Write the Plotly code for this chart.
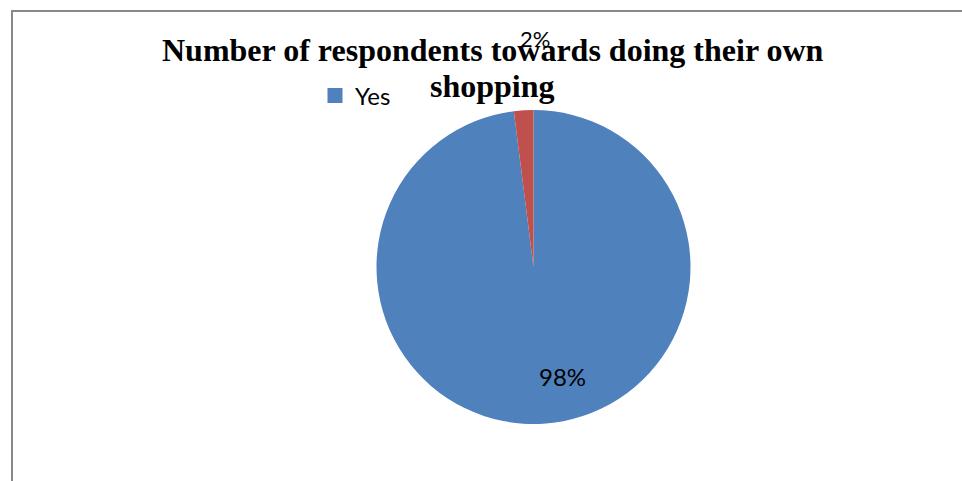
import plotly.graph_objects as go

labels = ["Yes", "No"]
values = [98, 2]
colors = ["#4F81BD", "#C0504D"]
title_lines = ["Number of respondents towards doing their own", "shopping"]

W, H = 962, 481

def px(x):
    return x / W

def py(y):
    return 1 - y / H

fig = go.Figure()
fig.add_trace(go.Pie(
    labels=labels, values=values, sort=False, direction="clockwise", rotation=0,
    marker=dict(colors=colors, line=dict(color="white", width=0)),
    textinfo="none", hoverinfo="label+percent", showlegend=False,
    domain=dict(x=[px(376.5), px(690.5)], y=[py(424), py(110)]),
))
# legend entry (only "Yes" visible in the reference)
fig.add_trace(go.Scatter(
    x=[None], y=[None], mode="markers", name=labels[0],
    marker=dict(symbol="square", size=15, color=colors[0]), showlegend=True,
))

annotations = []
serif = "Liberation Serif, Times New Roman, serif"
for line, yc in zip(title_lines, [50, 86]):
    annotations.append(dict(text="<b>" + line + "</b>", x=px(492.5), y=py(yc), xref="paper", yref="paper",
                            showarrow=False, xanchor="center", yanchor="middle",
                            font=dict(family=serif, size=32, color="black")))

total = sum(values)
pct = [f"{round(v / total * 100)}%" for v in values]
label_pos = [(562, 376, 24), (535, 38, 22)]
for t, (x, y, s) in zip(pct, label_pos):
    annotations.append(dict(text=t, x=px(x), y=py(y), xref="paper", yref="paper",
                            showarrow=False, xanchor="center", yanchor="middle",
                            font=dict(family="Lato, Open Sans, sans-serif", size=s, color="black")))

fig.update_layout(
    width=W, height=H, margin=dict(l=0, r=0, t=0, b=0),
    paper_bgcolor="white", plot_bgcolor="white",
    xaxis=dict(visible=False), yaxis=dict(visible=False),
    legend=dict(x=px(315), y=py(96), xanchor="left", yanchor="middle", bgcolor="rgba(0,0,0,0)",
                font=dict(family="Lato, Open Sans, sans-serif", size=24, color="black"),
                itemsizing="trace", itemwidth=30),
    annotations=annotations,
    shapes=[
        dict(type="line", xref="paper", yref="paper", x0=px(11), x1=1, y0=py(11), y1=py(11),
             line=dict(color="#888888", width=2)),
        dict(type="line", xref="paper", yref="paper", x0=px(12), x1=px(12), y0=py(10), y1=0,
             line=dict(color="#888888", width=2)),
    ],
)

fig.write_html("out.html")
